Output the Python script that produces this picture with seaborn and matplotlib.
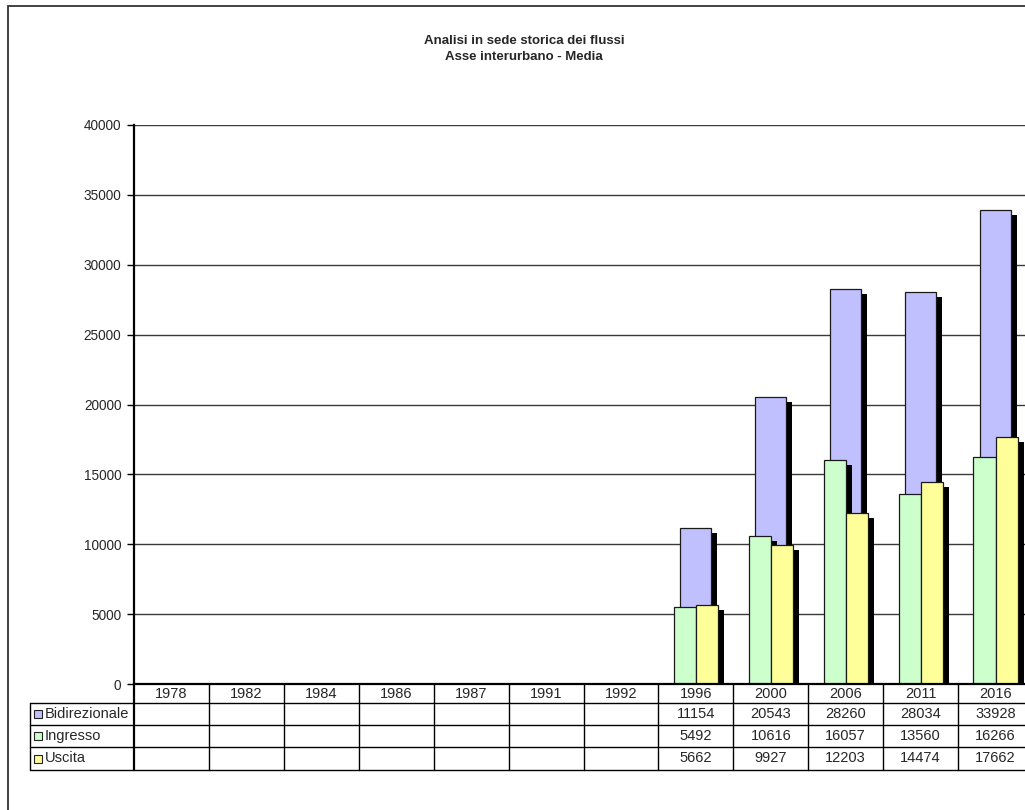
import pandas as pd
import matplotlib
matplotlib.use("Agg")
import matplotlib.pyplot as plt
import matplotlib.patheffects as pe
import matplotlib.transforms as mtrans
from matplotlib.patches import Rectangle
import seaborn as sns

sns.set_theme(style="white")
plt.rcParams['font.family'] = ['Liberation Sans', 'DejaVu Sans']

# dati
anni = ['1978', '1982', '1984', '1986', '1987', '1991', '1992',
        '1996', '2000', '2006', '2011', '2016']
anni_rilevati = ['1996', '2000', '2006', '2011', '2016']
bidirezionale = [11154, 20543, 28260, 28034, 33928]
ingresso = [5492, 10616, 16057, 13560, 16266]
uscita = [5662, 9927, 12203, 14474, 17662]

serie = ['Bidirezionale', 'Ingresso', 'Uscita']
colori = {'Bidirezionale': '#C0C0FF', 'Ingresso': '#CCFFCC', 'Uscita': '#FFFF99'}

df_bidi = pd.DataFrame({'anno': anni_rilevati, 'valore': bidirezionale})
df_io = pd.concat([
    pd.DataFrame({'anno': anni_rilevati, 'valore': ingresso, 'serie': 'Ingresso'}),
    pd.DataFrame({'anno': anni_rilevati, 'valore': uscita, 'serie': 'Uscita'}),
])
valori_tabella = {'Bidirezionale': bidirezionale, 'Ingresso': ingresso, 'Uscita': uscita}

W, H = 1025, 810
fig = plt.figure(figsize=(W / 100, H / 100), dpi=100)

# area del grafico (in pixel: asse y a x=134, 0 a y=684, 40000 a y=125)
x0, x1 = 134, 1033
y_top, y_bot = 125, 684
ax = fig.add_axes([x0 / W, (H - y_bot) / H, (x1 - x0) / W, (y_bot - y_top) / H])


def fy(y):
    return (H - y) / H


# cornice esterna
fig.patches.append(Rectangle((8 / W, fy(1200)), 2000 / W, (1200 - 6) / H,
                             transform=fig.transFigure, fill=False,
                             edgecolor='#333333', lw=1.3, zorder=0))

sns.barplot(data=df_bidi, x='anno', y='valore', order=anni, width=0.415,
            color=colori['Bidirezionale'], saturation=1, errorbar=None,
            edgecolor='#1a1a1a', linewidth=0.9, ax=ax)
sns.barplot(data=df_io, x='anno', y='valore', hue='serie', order=anni,
            hue_order=['Ingresso', 'Uscita'],
            palette=[colori['Ingresso'], colori['Uscita']], width=0.59,
            saturation=1, errorbar=None, edgecolor='#1a1a1a', linewidth=0.9,
            legend=False, ax=ax)

# ombra nera dietro le barre
for p in ax.patches:
    p.set_path_effects([pe.SimplePatchShadow(offset=(4.3, -3.6),
                                             shadow_rgbFace='black', alpha=1),
                        pe.Normal()])

ax.set_ylim(0, 40000)
ax.set_xlim(-0.5, len(anni) - 0.5)
ax.set_yticks(range(0, 40001, 5000))
ax.set_yticklabels([str(v) for v in range(0, 40001, 5000)], fontsize=9.8)
ax.set_xticks([])
ax.set_xlabel('')
ax.set_ylabel('')
ax.yaxis.grid(True, color='#3a3a3a', lw=1)
ax.set_axisbelow(True)
ax.tick_params(axis='y', direction='out', length=5, width=1, color='black',
               pad=4, left=True)
for s in ['top', 'right']:
    ax.spines[s].set_visible(False)
for s in ['left', 'bottom']:
    ax.spines[s].set_color('black')
    ax.spines[s].set_linewidth(1.6)

fig.text(524 / W, fy(49), 'Analisi in sede storica dei flussi\nAsse interurbano - Media',
         ha='center', va='center', fontsize=9.5, fontweight='bold',
         linespacing=1.45)

# tabella dati sotto il grafico
tr = mtrans.blended_transform_factory(ax.transData, fig.transFigure)
righe = [684, 703, 725, 747, 770]
lw_t = 1.0
# righe orizzontali
fig.add_artist(plt.Line2D([-0.5, len(anni) - 0.5], [fy(703)] * 2, transform=tr,
                          color='black', lw=lw_t))
for y in righe[2:]:
    fig.add_artist(plt.Line2D([30 / W, 2.0], [fy(y)] * 2, transform=fig.transFigure,
                              color='black', lw=lw_t))
fig.add_artist(plt.Line2D([30 / W, x0 / W], [fy(703)] * 2, transform=fig.transFigure,
                          color='black', lw=lw_t))
# righe verticali
fig.add_artist(plt.Line2D([30 / W] * 2, [fy(703), fy(770)], transform=fig.transFigure,
                          color='black', lw=lw_t))
for i in range(len(anni) + 1):
    fig.add_artist(plt.Line2D([i - 0.5] * 2, [fy(684), fy(770)], transform=tr,
                              color='black', lw=lw_t if i else 1.6))

for i, a in enumerate(anni):
    fig.text(i, fy(693.5), a, transform=tr, ha='center', va='center', fontsize=10.5)

for r, nome in enumerate(serie):
    yc = (righe[r + 1] + righe[r + 2]) / 2
    fig.patches.append(Rectangle((34 / W, fy(yc + 4)), 8 / W, 8 / H,
                                 transform=fig.transFigure,
                                 facecolor=colori[nome], edgecolor='#222222', lw=0.8))
    fig.text(45 / W, fy(yc), nome, ha='left', va='center', fontsize=10.5)
    for a, v in zip(anni_rilevati, valori_tabella[nome]):
        fig.text(anni.index(a), fy(yc), str(v), transform=tr,
                 ha='center', va='center', fontsize=10.5)

fig.savefig('out.png', dpi=100)
